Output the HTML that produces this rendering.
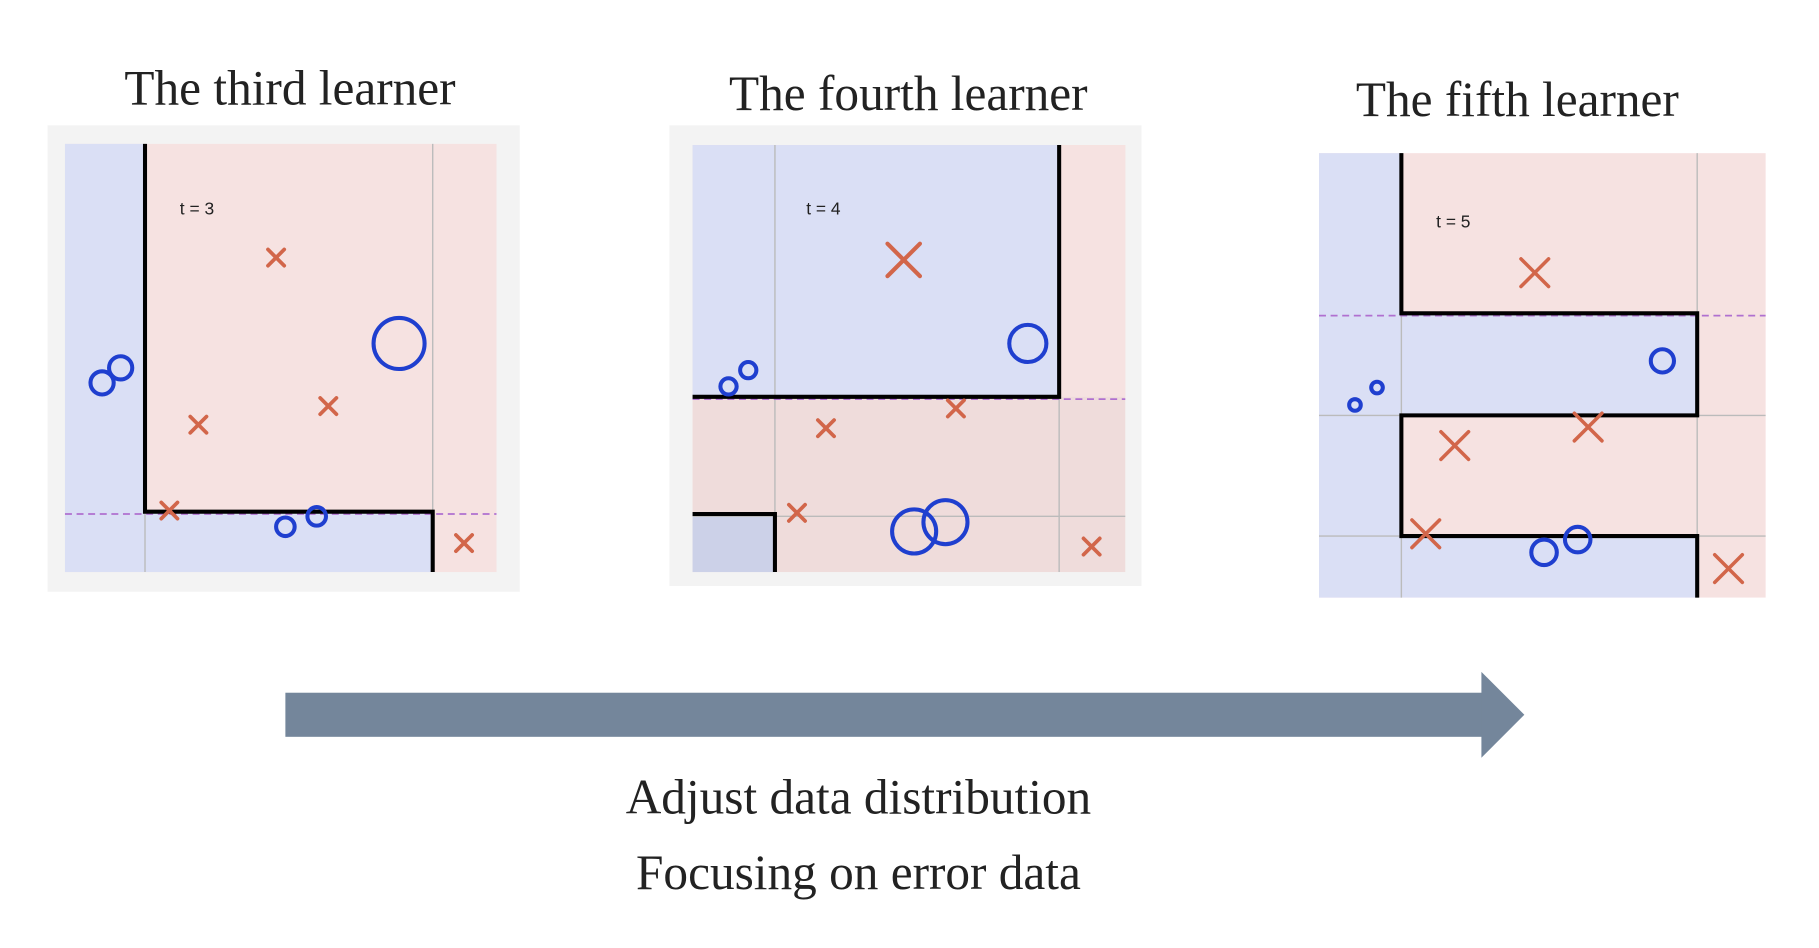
<!DOCTYPE html>
<html><head><meta charset="utf-8"><style>
html,body{margin:0;padding:0;background:#fff;}
svg{display:block;}
text{font-family:"Liberation Serif",serif;fill:#222;}
</style></head><body>
<svg width="1819" height="948" viewBox="0 0 1568 817" preserveAspectRatio="none" xmlns="http://www.w3.org/2000/svg">
<defs>
<g id="xs"><path d="M-7,-7L7,7M7,-7L-7,7" stroke="#d2664a" stroke-width="3.2" stroke-linecap="round"/></g>
<g id="xl"><path d="M-14,-14L14,14M14,-14L-14,14" stroke="#d2664a" stroke-width="3.6" stroke-linecap="round"/></g>
</defs>
<rect width="1568" height="817" fill="#fff"/>
<text x="250" y="90" font-size="42.5" text-anchor="middle">The third learner</text>
<text x="783" y="95" font-size="42.5" text-anchor="middle">The fourth learner</text>
<text x="1308" y="100" font-size="42.5" text-anchor="middle">The fifth learner</text>

<!-- Panel 1 -->
<rect x="41" y="108" width="407" height="402" fill="#f3f3f3"/>
<rect x="56" y="124" width="372" height="369" fill="#f6e2e1"/>
<rect x="56" y="124" width="69" height="369" fill="#dadff5"/>
<rect x="125" y="441" width="248" height="52" fill="#dadff5"/>
<g stroke="#bbb" stroke-width="1.2"><line x1="125" y1="124" x2="125" y2="493"/><line x1="373" y1="124" x2="373" y2="493"/></g>
<line x1="56" y1="443" x2="428" y2="443" stroke="#b070d0" stroke-width="1.5" stroke-dasharray="6,4"/>
<path d="M125,124V441H373V493" fill="none" stroke="#000" stroke-width="3.5"/>
<text x="155" y="185" font-size="15" style="font-family:'Liberation Sans',sans-serif" fill="#333">t = 3</text>
<use href="#xs" x="238" y="222"/><use href="#xs" x="171" y="366"/><use href="#xs" x="283" y="350"/><use href="#xs" x="146" y="440"/><use href="#xs" x="400" y="468"/>
<g fill="none" stroke="#1f3fcf" stroke-width="3.5"><circle cx="88" cy="330" r="10"/><circle cx="104" cy="317" r="10"/><circle cx="344" cy="296" r="22"/><circle cx="246" cy="454" r="8"/><circle cx="273" cy="445" r="8"/></g>

<!-- Panel 2 -->
<rect x="577" y="108" width="407" height="397" fill="#f3f3f3"/>
<rect x="597" y="125" width="373" height="368" fill="#efdcdb"/>
<rect x="597" y="125" width="316" height="217" fill="#dadff5"/>
<rect x="913" y="125" width="57" height="217" fill="#f6e2e1"/>
<rect x="597" y="443" width="71" height="50" fill="#ccd1e8"/>
<g stroke="#bbb" stroke-width="1.2"><line x1="668" y1="125" x2="668" y2="493"/><line x1="913" y1="125" x2="913" y2="493"/><line x1="597" y1="445" x2="970" y2="445"/></g>
<line x1="597" y1="344" x2="970" y2="344" stroke="#b070d0" stroke-width="1.5" stroke-dasharray="6,4"/>
<path d="M913,125V342H597" fill="none" stroke="#000" stroke-width="3.5"/>
<path d="M597,443H668V493" fill="none" stroke="#000" stroke-width="3.5"/>
<text x="695" y="185" font-size="15" style="font-family:'Liberation Sans',sans-serif" fill="#333">t = 4</text>
<use href="#xl" x="779" y="224"/>
<use href="#xs" x="712" y="369"/><use href="#xs" x="824" y="352"/><use href="#xs" x="687" y="442"/><use href="#xs" x="941" y="471"/>
<g fill="none" stroke="#1f3fcf" stroke-width="3.5"><circle cx="628" cy="333" r="7"/><circle cx="645" cy="319" r="7"/><circle cx="886" cy="296" r="16"/><circle cx="788" cy="458" r="19"/><circle cx="815" cy="450" r="19"/></g>

<!-- Panel 3 -->
<rect x="1137" y="132" width="385" height="383" fill="#f6e2e1"/>
<rect x="1137" y="132" width="71" height="383" fill="#dadff5"/>
<rect x="1137" y="270" width="326" height="88" fill="#dadff5"/>
<rect x="1137" y="462" width="326" height="53" fill="#dadff5"/>
<g stroke="#bbb" stroke-width="1.2"><line x1="1208" y1="132" x2="1208" y2="515"/><line x1="1463" y1="132" x2="1463" y2="515"/><line x1="1137" y1="358" x2="1522" y2="358"/><line x1="1137" y1="462" x2="1522" y2="462"/></g>
<line x1="1137" y1="272" x2="1522" y2="272" stroke="#b070d0" stroke-width="1.5" stroke-dasharray="6,4"/>
<path d="M1208,132V270H1463V358H1208V462H1463V515" fill="none" stroke="#000" stroke-width="3.5"/>
<text x="1238" y="196" font-size="15" style="font-family:'Liberation Sans',sans-serif" fill="#333">t = 5</text>
<g transform="translate(1323,235) scale(0.85)"><use href="#xl"/></g>
<g transform="translate(1254,384) scale(0.85)"><use href="#xl"/></g>
<g transform="translate(1369,368) scale(0.85)"><use href="#xl"/></g>
<g transform="translate(1229,460) scale(0.85)"><use href="#xl"/></g>
<g transform="translate(1490,490) scale(0.85)"><use href="#xl"/></g>
<g fill="none" stroke="#1f3fcf" stroke-width="3.5"><circle cx="1433" cy="311" r="10"/><circle cx="1168" cy="349" r="5"/><circle cx="1187" cy="334" r="5"/><circle cx="1331" cy="476" r="11"/><circle cx="1360" cy="465" r="11"/></g>

<!-- Arrow -->
<rect x="246" y="597" width="1033" height="38" fill="#74869b"/>
<polygon points="1277,579 1314,616 1277,653" fill="#74869b"/>
<text x="740" y="701" font-size="42.5" text-anchor="middle">Adjust data distribution</text>
<text x="740" y="766" font-size="42.5" text-anchor="middle">Focusing on error data</text>
</svg>
</body></html>
